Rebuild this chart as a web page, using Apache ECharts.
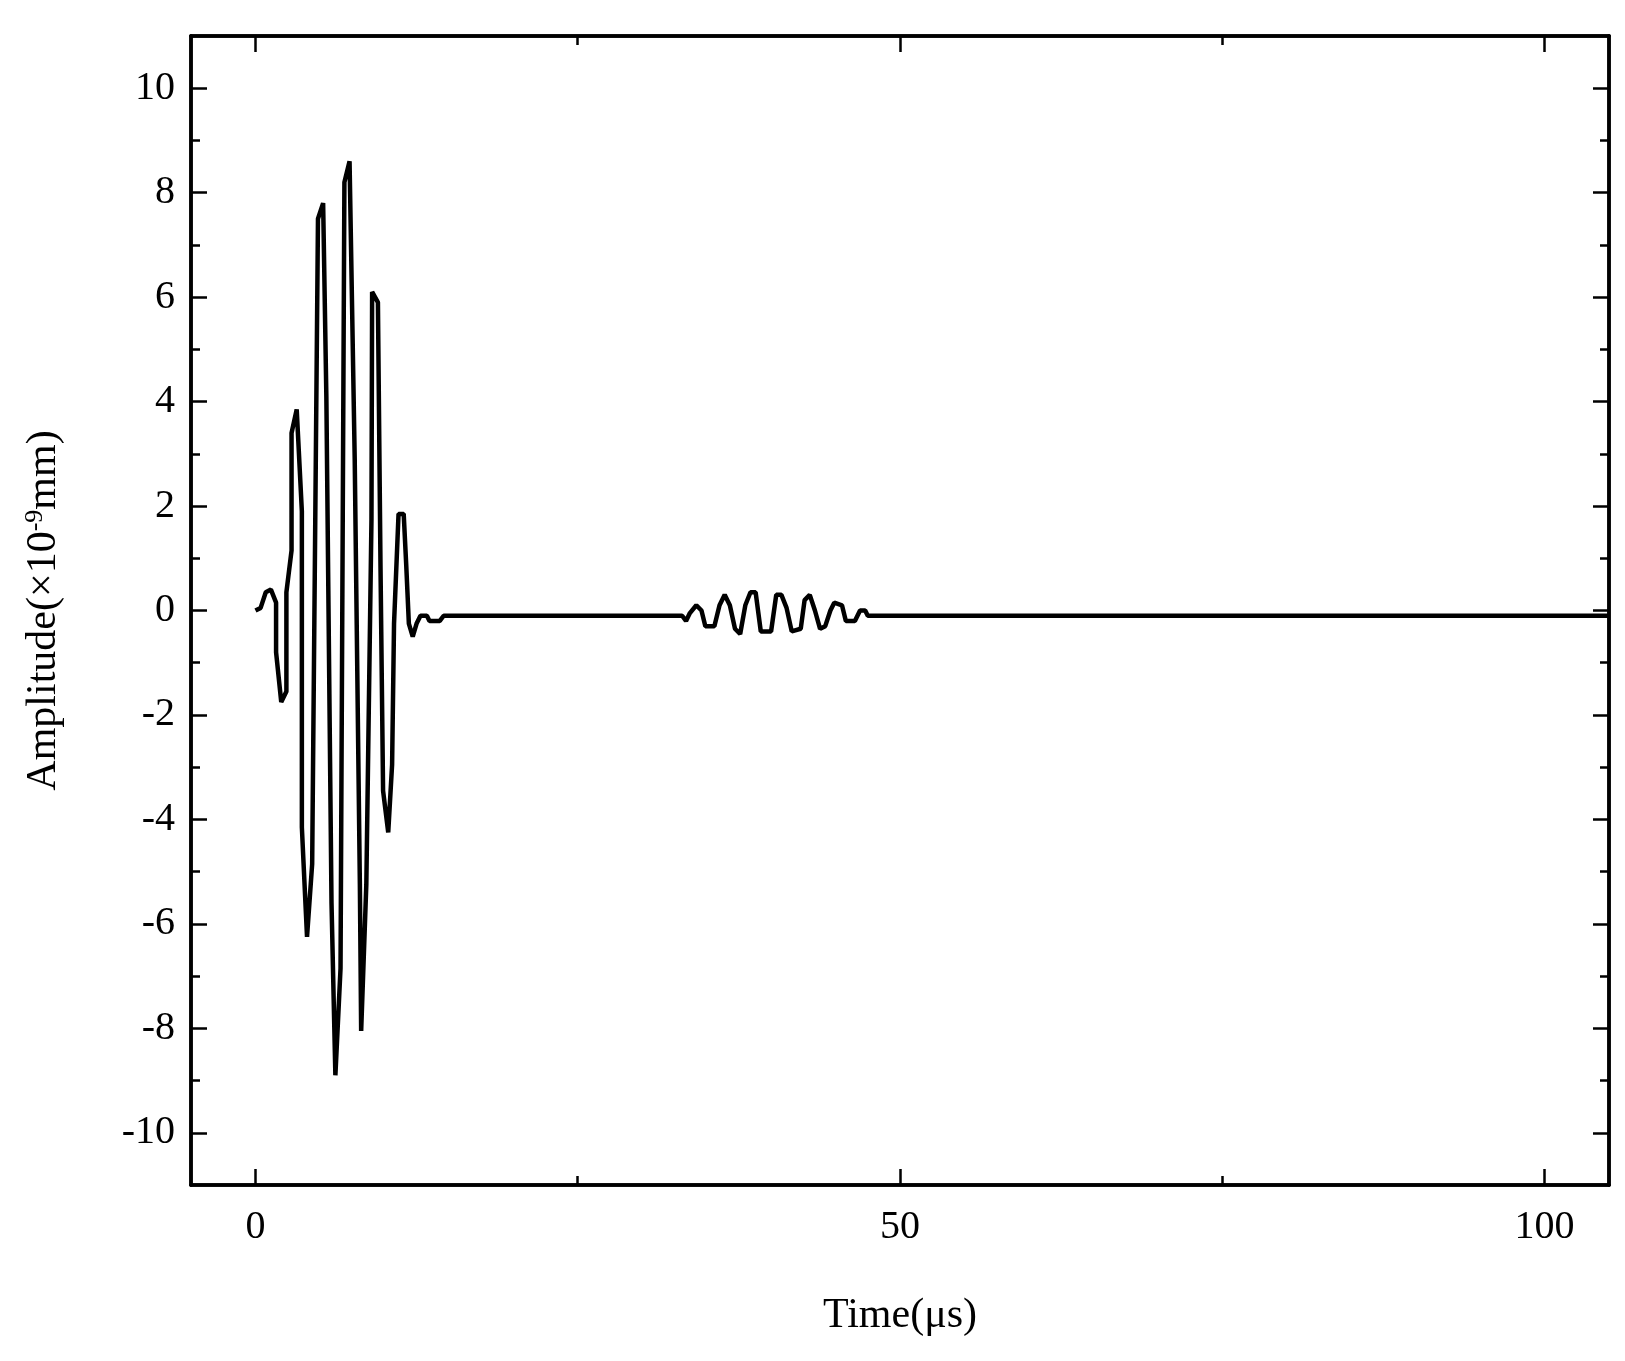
<!DOCTYPE html>
<html><head><meta charset="utf-8">
<script src="https://cdn.jsdelivr.net/npm/echarts@6/dist/echarts.min.js"></script>
<style>html,body{margin:0;background:#fff}#c{width:1625px;height:1361px}</style>
</head><body><div id="c"></div>
<script>
// time (µs) and amplitude (×1e-9 mm)
const timeUs = [0,0.4,0.8,1.2,1.6,1.6,2.0,2.4,2.4,2.8,2.8,3.2,3.6,3.6,4.0,4.4,4.85,5.25,5.5,5.9,6.2,6.6,6.9,7.3,7.7,8.1,8.2,8.6,9.0,9.05,9.5,9.7,9.9,10.3,10.6,10.75,11.1,11.5,11.7,11.9,12.2,12.5,12.8,13.3,13.5,14.3,14.6,33.1,33.4,33.7,34.2,34.6,34.9,35.6,36.0,36.4,36.8,37.2,37.6,38.0,38.4,38.8,39.2,40.0,40.4,40.8,41.2,41.6,42.3,42.6,43.0,43.4,43.8,44.2,44.6,44.9,45.5,45.8,46.5,46.9,47.3,47.5,105];
const amplitude = [0,0.05,0.35,0.4,0.15,-0.8,-1.75,-1.55,0.35,1.15,3.4,3.85,1.9,-4.15,-6.25,-4.85,7.5,7.8,4.1,-5.6,-8.9,-6.85,8.2,8.6,2.9,-5.25,-8.05,-5.25,1.75,6.1,5.9,0.85,-3.45,-4.25,-2.95,-0.25,1.85,1.85,0.85,-0.25,-0.5,-0.25,-0.1,-0.1,-0.2,-0.2,-0.1,-0.1,-0.2,-0.05,0.1,0,-0.3,-0.3,0.1,0.3,0.1,-0.35,-0.45,0.1,0.35,0.35,-0.4,-0.4,0.3,0.3,0.05,-0.4,-0.35,0.2,0.3,0,-0.35,-0.3,0,0.15,0.1,-0.2,-0.2,0,0,-0.1,-0.1];
const xLabels = [0,50,100];
const xMinor = [25,75];
const yLabels = [-10,-8,-6,-4,-2,0,2,4,6,8,10];
const yMinor = [-9,-7,-5,-3,-1,1,3,5,7,9];

const font = 'Liberation Serif';
const lineStyle = {color:'#000',width:3.5};
function xAx(pos, vals, len, labels, extra){
  return Object.assign({type:'value',min:-5,max:105,position:pos,
    axisLine:{show:true,onZero:false,lineStyle},
    axisTick:{show:true,inside:true,length:len,customValues:vals,lineStyle:{color:'#000',width:2.5}},
    axisLabel:{show:labels,customValues:vals,margin:22,color:'#000',fontFamily:font,fontSize:40},
    splitLine:{show:false}}, extra||{});
}
function yAx(pos, vals, len, labels, extra){
  return Object.assign({type:'value',min:-11,max:11,position:pos,
    axisLine:{show:true,onZero:false,lineStyle},
    axisTick:{show:true,inside:true,length:len,customValues:vals,lineStyle:{color:'#000',width:2.5}},
    axisLabel:{show:labels,customValues:vals,margin:16,color:'#000',fontFamily:font,fontSize:40},
    splitLine:{show:false}}, extra||{});
}
const chart = echarts.init(document.getElementById('c'));
chart.setOption({
  animation:false,
  grid:{left:191,right:16,top:36,bottom:176},
  xAxis:[
    xAx('bottom', xLabels, 16, true, {name:'Time(μs)',nameLocation:'middle',nameGap:110,
      nameTextStyle:{color:'#000',fontFamily:font,fontSize:42}}),
    xAx('bottom', xMinor, 9, false),
    xAx('top', xLabels, 16, false),
    xAx('top', xMinor, 9, false)
  ],
  yAxis:[
    yAx('left', yLabels, 16, true, {name:'{a|Amplitude(×10}{s|-9}{a|mm)}',nameLocation:'middle',nameGap:125,
      nameTextStyle:{rich:{a:{color:'#000',fontFamily:font,fontSize:42},s:{color:'#000',fontFamily:font,fontSize:26,verticalAlign:'top',padding:[0,0,18,0]}}}}),
    yAx('left', yMinor, 9, false),
    yAx('right', yLabels, 16, false),
    yAx('right', yMinor, 9, false)
  ],
  series:[{type:'line',showSymbol:false,xAxisIndex:0,yAxisIndex:0,
    data:timeUs.map((t,i)=>[t,amplitude[i]]),
    lineStyle:{color:'#000',width:4.5},itemStyle:{color:'#000'}}]
});
</script></body></html>
